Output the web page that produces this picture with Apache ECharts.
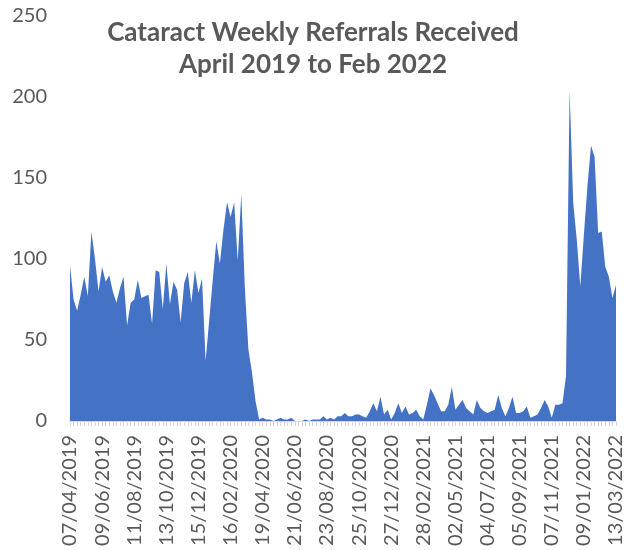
<!DOCTYPE html>
<html>
<head>
<meta charset="utf-8">
<script src="https://cdn.jsdelivr.net/npm/echarts@6/dist/echarts.min.js"></script>
<style>
  html, body { margin: 0; padding: 0; background: #fff; }
  #chart { width: 626px; height: 550px; }
</style>
</head>
<body>
<div id="chart"></div>
<script>
// weekly categories, first week 07/04/2019, 154 weeks up to 13/03/2022
const firstWeek = Date.UTC(2019, 3, 7);
const weekCount = 154;

// referrals per week
const referralsBeforeLockdown = [
  96, 75, 68, 78, 89, 77, 117, 100, 80, 95, 86, 90, 80, 73, 82, 89, 59, 73,
  75, 87, 76, 77, 78, 60, 93, 92, 69, 97, 72, 86, 81, 61, 85, 92, 73, 93,
  79, 88, 37, 62, 87, 111, 97, 118, 135, 126, 135, 99, 140, 82, 44, 30, 12, 1
];
const referralsLowPeriod = [
  2, 1, 1, 0, 1, 2, 1, 1, 2, 0, 0, 0, 1, 0, 1, 1, 1, 3, 1, 2, 1, 3,
  3, 5, 3, 3, 4, 4, 3, 2, 6, 11, 6, 15, 4, 7, 1, 5, 11, 5, 9, 4, 5, 7,
  3, 1, 10, 20, 16, 11, 6, 6, 10, 21, 7, 10, 13, 8, 6, 4, 13, 8, 6, 5,
  6, 7, 16, 8, 3, 8, 15, 5, 5, 6, 9, 2, 3, 4, 8, 13, 9, 2, 10, 10, 11, 28
];
const referralsRecovery = [204, 135, 112, 83, 115, 145, 170, 163, 116, 117, 95, 89, 76, 84];

const yTicks = { min: 0, max: 250, interval: 50 };
const labelEvery = 9;

function pad(n) { return n < 10 ? '0' + n : '' + n; }

const weeks = [];
for (let i = 0; i < weekCount; i++) {
  const d = new Date(firstWeek + i * 7 * 86400000);
  weeks.push(pad(d.getUTCDate()) + '/' + pad(d.getUTCMonth() + 1) + '/' + d.getUTCFullYear());
}
const referrals = referralsBeforeLockdown.concat(referralsLowPeriod, referralsRecovery);

const textGrey = '#595959';
const font = 'Lato, "Liberation Sans", sans-serif';

const chart = echarts.init(document.getElementById('chart'));
chart.setOption({
  animation: false,
  title: {
    text: 'Cataract Weekly Referrals Received\nApril 2019 to Feb 2022',
    left: 'center',
    top: 12,
    padding: [5, 0, 5, 24],
    textStyle: {
      color: textGrey,
      fontFamily: font,
      fontWeight: 'bold',
      fontSize: 26,
      lineHeight: 32
    }
  },
  grid: {
    left: 70,
    right: 9,
    top: 16,
    bottom: 129,
    containLabel: false
  },
  xAxis: {
    type: 'category',
    data: weeks,
    boundaryGap: false,
    axisLine: { show: true, lineStyle: { color: '#d9d9d9' } },
    axisTick: { show: true, interval: 0, length: 5, lineStyle: { color: '#d9d9d9' } },
    axisLabel: {
      interval: labelEvery - 1,
      rotate: 90,
      margin: 14,
      color: textGrey,
      fontFamily: font,
      fontSize: 20
    },
    splitLine: { show: false }
  },
  yAxis: {
    type: 'value',
    min: yTicks.min,
    max: yTicks.max,
    interval: yTicks.interval,
    axisLine: { show: false },
    axisTick: { show: false },
    splitLine: { show: false },
    axisLabel: {
      margin: 23,
      color: textGrey,
      fontFamily: font,
      fontSize: 20
    }
  },
  series: [
    {
      name: 'Referrals',
      type: 'line',
      data: referrals,
      showSymbol: false,
      lineStyle: { width: 0 },
      areaStyle: { color: '#4472c4', opacity: 1 },
      itemStyle: { color: '#4472c4' }
    }
  ]
});
</script>
</body>
</html>
